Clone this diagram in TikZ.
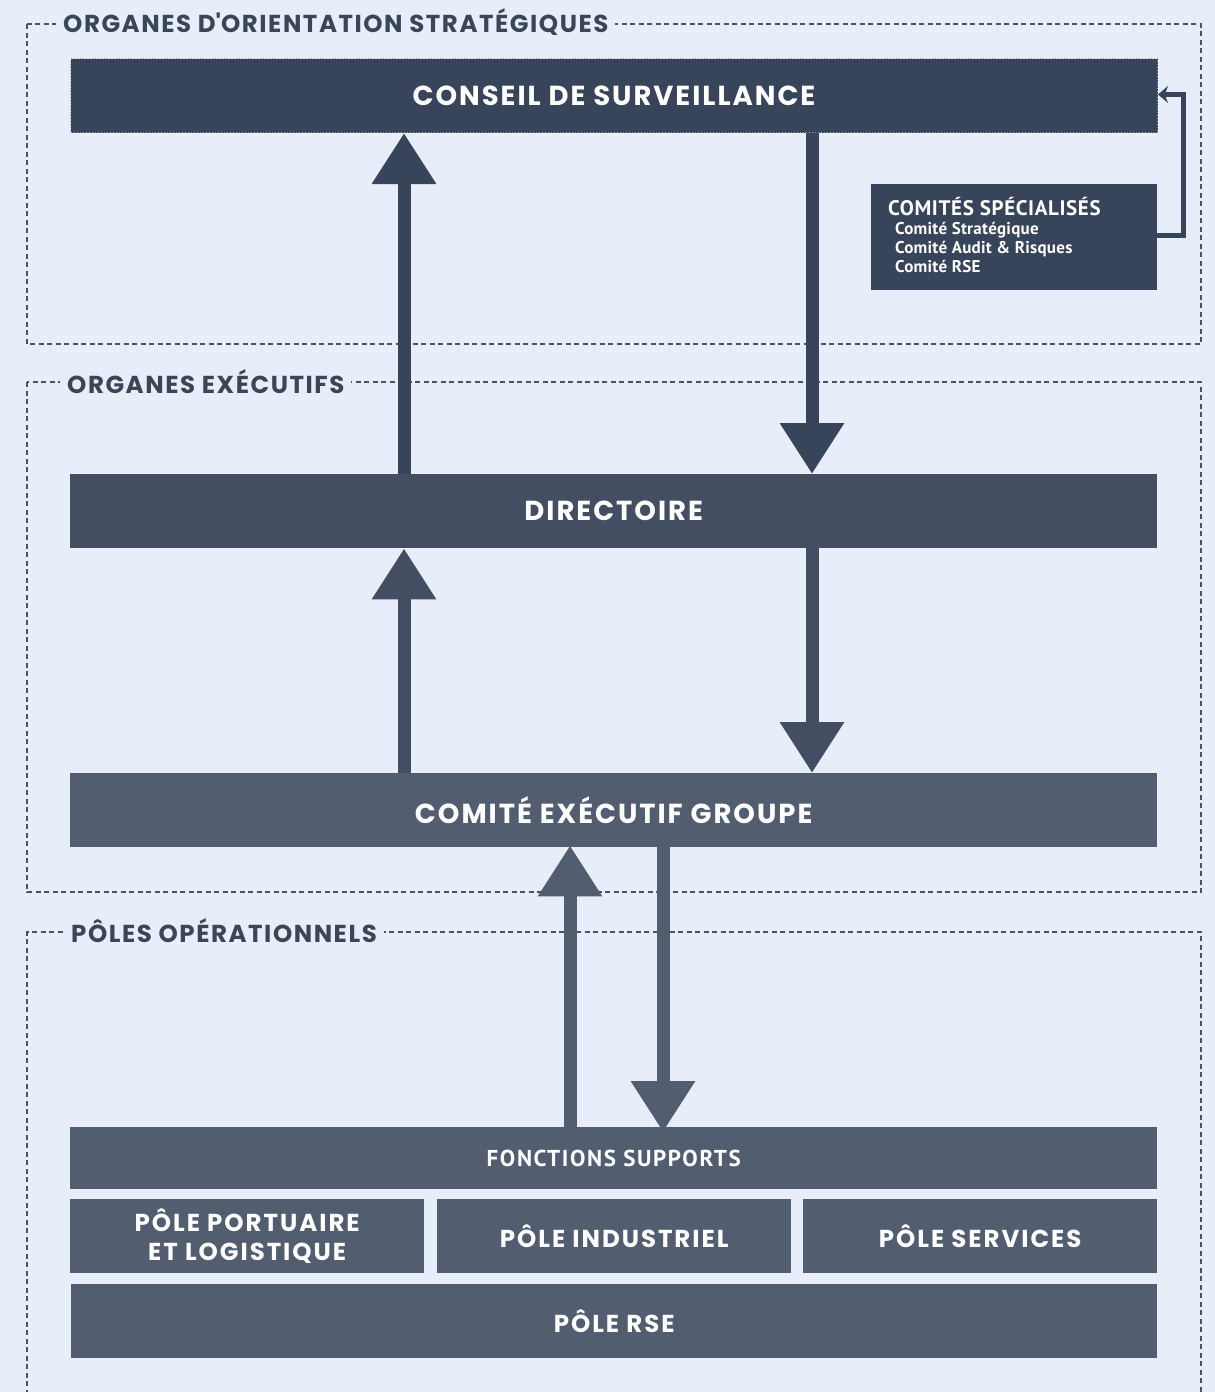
\documentclass[tikz,border=0pt]{standalone}
\usepackage{fontspec}
\setmainfont{Poppins}
\newfontfamily\humfont{PT Sans}
\usetikzlibrary{arrows.meta}

\definecolor{bgblue}{HTML}{E8EEF9}
\definecolor{navy}{HTML}{38445A}
\definecolor{slate}{HTML}{434E62}
\definecolor{steel}{HTML}{525D70}
\definecolor{framegray}{HTML}{4A5264}
\definecolor{titlegray}{HTML}{3B4558}

\tikzset{
  frame/.style={draw=framegray, line width=2pt, dash pattern=on 5pt off 3.5pt},
  frametitle/.style={fill=bgblue, text=titlegray, anchor=west, inner xsep=7pt, inner ysep=2pt,
    font=\fontsize{24.5}{26}\selectfont\bfseries\addfontfeatures{LetterSpace=6.3}},
  bar/.style={anchor=north west, inner sep=0pt, text=white, minimum width=1087pt, minimum height=74pt,
    font=\fontsize{27.5}{30}\selectfont\bfseries\addfontfeatures{LetterSpace=7.2}},
  cell/.style={bar, minimum width=354pt, align=center,
    font=\fontsize{24.5}{29}\selectfont\bfseries\addfontfeatures{LetterSpace=8}},
  bigarrow/.style={line width=13pt, -{Triangle[width=61pt,length=51pt]}},
}

\begin{document}
\begin{tikzpicture}[x=1pt,y=-1pt]
  % background and page size
  \fill[bgblue] (0,0) rectangle (1215,1392);
  \useasboundingbox (0,0) rectangle (1215,1392);
  \clip (0,0) rectangle (1215,1392);

  % draw the three dashed frames
  \draw[frame] (27,24) rectangle (1201,344);
  \draw[frame] (27,382) rectangle (1201,892);
  \draw[frame] (27,1420) -- (27,932) -- (1201,932) -- (1201,1420);
  \node[frametitle] (titlestrat) at (56,22) {ORGANES D\textquotesingle ORIENTATION STRATÉGIQUES};
  \node[frametitle] (titleexec) at (60,382) {ORGANES EXÉCUTIFS};
  \node[frametitle] (titlepoles) at (64,931) {PÔLES OPÉRATIONNELS};

  % organes d'orientation
  \node[bar, fill=navy, draw=gray!70, dotted, line width=1pt] (conseil) at (70,58) {CONSEIL DE SURVEILLANCE};
  \node[anchor=north west, fill=navy, minimum width=286pt, minimum height=106pt] (comites) at (871,184) {};
  \node[anchor=north west, text=white, inner sep=0pt, align=left,
        font=\humfont\bfseries\fontsize{17}{19}\selectfont\addfontfeatures{LetterSpace=1.5}] (comitestext)
       at ([xshift=17pt,yshift=-13pt]comites.north west)
       {{\fontsize{21}{19}\selectfont\addfontfeatures{LetterSpace=3}COMITÉS SPÉCIALISÉS}\\
        \hspace*{7pt}Comité Stratégique\\
        \hspace*{7pt}Comité Audit \& Risques\\
        \hspace*{7pt}Comité RSE};

  % organes executifs
  \node[bar, fill=slate] (directoire) at (70,474) {DIRECTOIRE};
  \node[bar, fill=steel] (comex) at (70,773) {COMITÉ EXÉCUTIF GROUPE};

  % poles
  \node[bar, fill=steel, minimum height=62pt,
        font=\humfont\bfseries\fontsize{23}{24}\selectfont\addfontfeatures{LetterSpace=7}] (supports) at (70,1127) {FONCTIONS SUPPORTS};
  \node[cell, fill=steel] (portuaire) at (70,1199) {PÔLE PORTUAIRE\\ET LOGISTIQUE};
  \node[cell, fill=steel] (industriel) at (437,1199) {PÔLE INDUSTRIEL};
  \node[cell, fill=steel] (services) at (803,1199) {PÔLE SERVICES};
  \node[bar, fill=steel, minimum width=1086pt,
        font=\fontsize{24.5}{24}\selectfont\bfseries\addfontfeatures{LetterSpace=8}] (rse) at (71,1284) {PÔLE RSE};

  % columns of the arrows
  \coordinate (upA) at (404,0);
  \coordinate (downA) at (812,0);
  \coordinate (upB) at (570,0);
  \coordinate (downB) at (663,0);
  \coordinate (loop) at (1183.5,0);

  % arrows between the bodies
  \draw[bigarrow, navy] (directoire.north -| upA) -- (conseil.south -| upA);
  \draw[bigarrow, navy] (conseil.south -| downA) -- (directoire.north -| downA);
  \draw[bigarrow, slate] (comex.north -| upA) -- (directoire.south -| upA);
  \draw[bigarrow, slate] (directoire.south -| downA) -- (comex.north -| downA);
  \draw[bigarrow, steel] (supports.north -| upB) -- ([yshift=2pt]comex.south -| upB);
  \draw[bigarrow, steel] (comex.south -| downB) -- ([yshift=-5pt]supports.north -| downB);

  % comites back to the conseil
  \draw[navy, line width=5pt, -{Stealth[width=17pt,length=10pt]}]
    ([yshift=1.5pt]comites.east) -- ([yshift=1.5pt]comites.east -| loop) -- ([yshift=1pt]conseil.east -| loop) -- ([yshift=1pt]conseil.east);
\end{tikzpicture}
\end{document}
